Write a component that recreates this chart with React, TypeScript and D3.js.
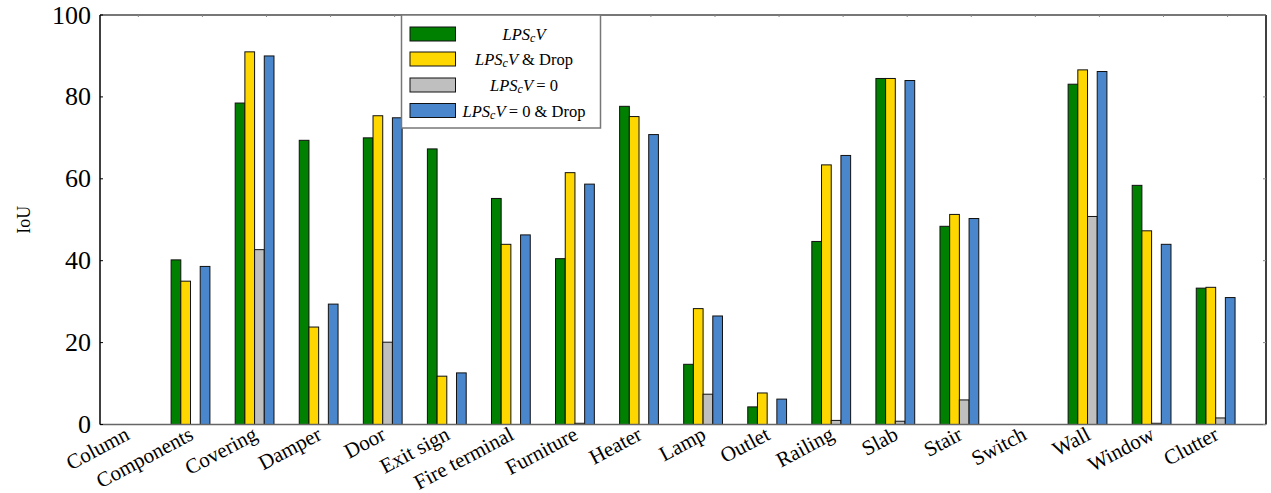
import React from "react";
import * as d3 from "d3";

// Per-class IoU for the four model variants
const categories = [
  "Column", "Components", "Covering", "Damper", "Door", "Exit sign",
  "Fire terminal", "Furniture", "Heater", "Lamp", "Outlet", "Railing",
  "Slab", "Stair", "Switch", "Wall", "Window", "Clutter",
];
const lpscv = [0, 40.2, 78.5, 69.4, 70.0, 67.3, 55.2, 40.5, 77.7, 14.7, 4.3, 44.7, 84.5, 48.4, 0, 83.1, 58.4, 33.3];
const lpscvDrop = [0, 35.0, 91.0, 23.8, 75.4, 11.8, 44.0, 61.5, 75.2, 28.3, 7.7, 63.4, 84.5, 51.3, 0, 86.6, 47.3, 33.5];
const lpscvZero = [0, 0, 42.7, 0, 20.1, 0, 0, 0.3, 0, 7.4, 0, 1.0, 0.8, 6.0, 0, 50.8, 0.3, 1.6];
const lpscvZeroDrop = [0, 38.6, 90.0, 29.4, 74.9, 12.6, 46.3, 58.7, 70.8, 26.5, 6.2, 65.7, 84.0, 50.3, 0, 86.2, 44.0, 31.0];
const yTicks = [0, 20, 40, 60, 80, 100];

const series = [
  { key: "a", values: lpscv, color: "#008000" },
  { key: "b", values: lpscvDrop, color: "#FFD700" },
  { key: "c", values: lpscvZero, color: "#BFBFBF" },
  { key: "d", values: lpscvZeroDrop, color: "#4A86CC" },
];

const W = 1271;
const H = 493;
const plot = { left: 100, right: 1266, top: 15, bottom: 424.5 };
const FONT = "'Liberation Serif', 'DejaVu Serif', serif";

function LegendLabel({ x, y, zero, drop }: { x: number; y: number; zero: boolean; drop: boolean }) {
  return (
    <text x={x} y={y} textAnchor="middle" fontFamily={FONT} fontSize={16.5} dominantBaseline="central">
      <tspan fontStyle="italic">LPS</tspan>
      <tspan fontStyle="italic" fontSize={12} dy={4}>c</tspan>
      <tspan fontStyle="italic" dy={-4}>V</tspan>
      {zero ? <tspan>{"\u2009= 0"}</tspan> : null}
      {drop ? <tspan> &amp; Drop</tspan> : null}
    </text>
  );
}

export default function App() {
  const x = d3.scaleBand<string>().domain(categories).range([94.4, 1247.7]).padding(0);
  const y = d3.scaleLinear().domain([0, 100]).range([plot.bottom, plot.top]);
  const barW = 9.7;
  const center = (c: string) => (x(c) as number) + x.bandwidth() / 2;

  const legendItems = [
    { color: series[0].color, zero: false, drop: false },
    { color: series[1].color, zero: false, drop: true },
    { color: series[2].color, zero: true, drop: false },
    { color: series[3].color, zero: true, drop: true },
  ];
  const legendRows = [34, 59, 85, 110.5];

  return (
    <svg width={W} height={H} style={{ position: "absolute", left: 0, top: 0, background: "#fff" }}>
      {/* bars */}
      {series.map((s, si) => (
        <g key={s.key}>
          {categories.map((c, i) => {
            const v = s.values[i];
            const x0 = center(c) + (si - 2) * barW;
            return (
              <rect
                key={c}
                x={x0}
                y={y(v)}
                width={barW}
                height={y(0) - y(v)}
                fill={s.color}
                stroke="#111"
                strokeWidth={1}
              />
            );
          })}
        </g>
      ))}

      {/* frame */}
      <line x1={plot.left} x2={plot.right} y1={plot.top} y2={plot.top} stroke="#777" strokeWidth={2} />
      <line x1={plot.left} x2={plot.right} y1={plot.bottom} y2={plot.bottom} stroke="#666" strokeWidth={1.5} />
      <line x1={plot.left} x2={plot.left} y1={plot.top} y2={plot.bottom} stroke="#000" strokeWidth={1.5} />
      <line x1={plot.right} x2={plot.right} y1={plot.top} y2={plot.bottom} stroke="#000" strokeWidth={1.5} />

      {/* top tick marks */}
      {categories.map((c) => (
        <line key={c} x1={center(c) + 11.9} x2={center(c) + 11.9} y1={plot.top} y2={plot.top + 2} stroke="#888" strokeWidth={1} />
      ))}

      {/* y axis */}
      {yTicks.map((t) => (
        <g key={t}>
          <line x1={plot.left} x2={plot.left + 3} y1={y(t)} y2={y(t)} stroke="#000" strokeWidth={1} />
          <line x1={plot.right} x2={plot.right - 3} y1={y(t)} y2={y(t)} stroke="#888" strokeWidth={1} />
          <text x={plot.left - 9} y={y(t)} textAnchor="end" dominantBaseline="central" fontFamily={FONT} fontSize={26}>
            {t}
          </text>
        </g>
      ))}
      <text
        transform={`translate(24, ${(plot.top + plot.bottom) / 2}) rotate(-90)`}
        textAnchor="middle"
        dominantBaseline="central"
        fontFamily={FONT}
        fontSize={18}
      >
        IoU
      </text>

      {/* x labels */}
      {categories.map((c) => (
        <text
          key={c}
          transform={`translate(${center(c) + 1}, ${plot.bottom + 8}) rotate(-28)`}
          textAnchor="end"
          dominantBaseline="central"
          fontFamily={FONT}
          fontSize={21}
        >
          {c}
        </text>
      ))}

      {/* legend */}
      <rect x={401.5} y={15} width={199} height={113} fill="#fff" stroke="#777" strokeWidth={1.5} />
      {legendItems.map((it, i) => (
        <g key={i}>
          <rect x={410} y={legendRows[i] - 7} width={45.5} height={14} fill={it.color} stroke="#111" strokeWidth={1} />
          <LegendLabel x={524} y={legendRows[i]} zero={it.zero} drop={it.drop} />
        </g>
      ))}
    </svg>
  );
}
